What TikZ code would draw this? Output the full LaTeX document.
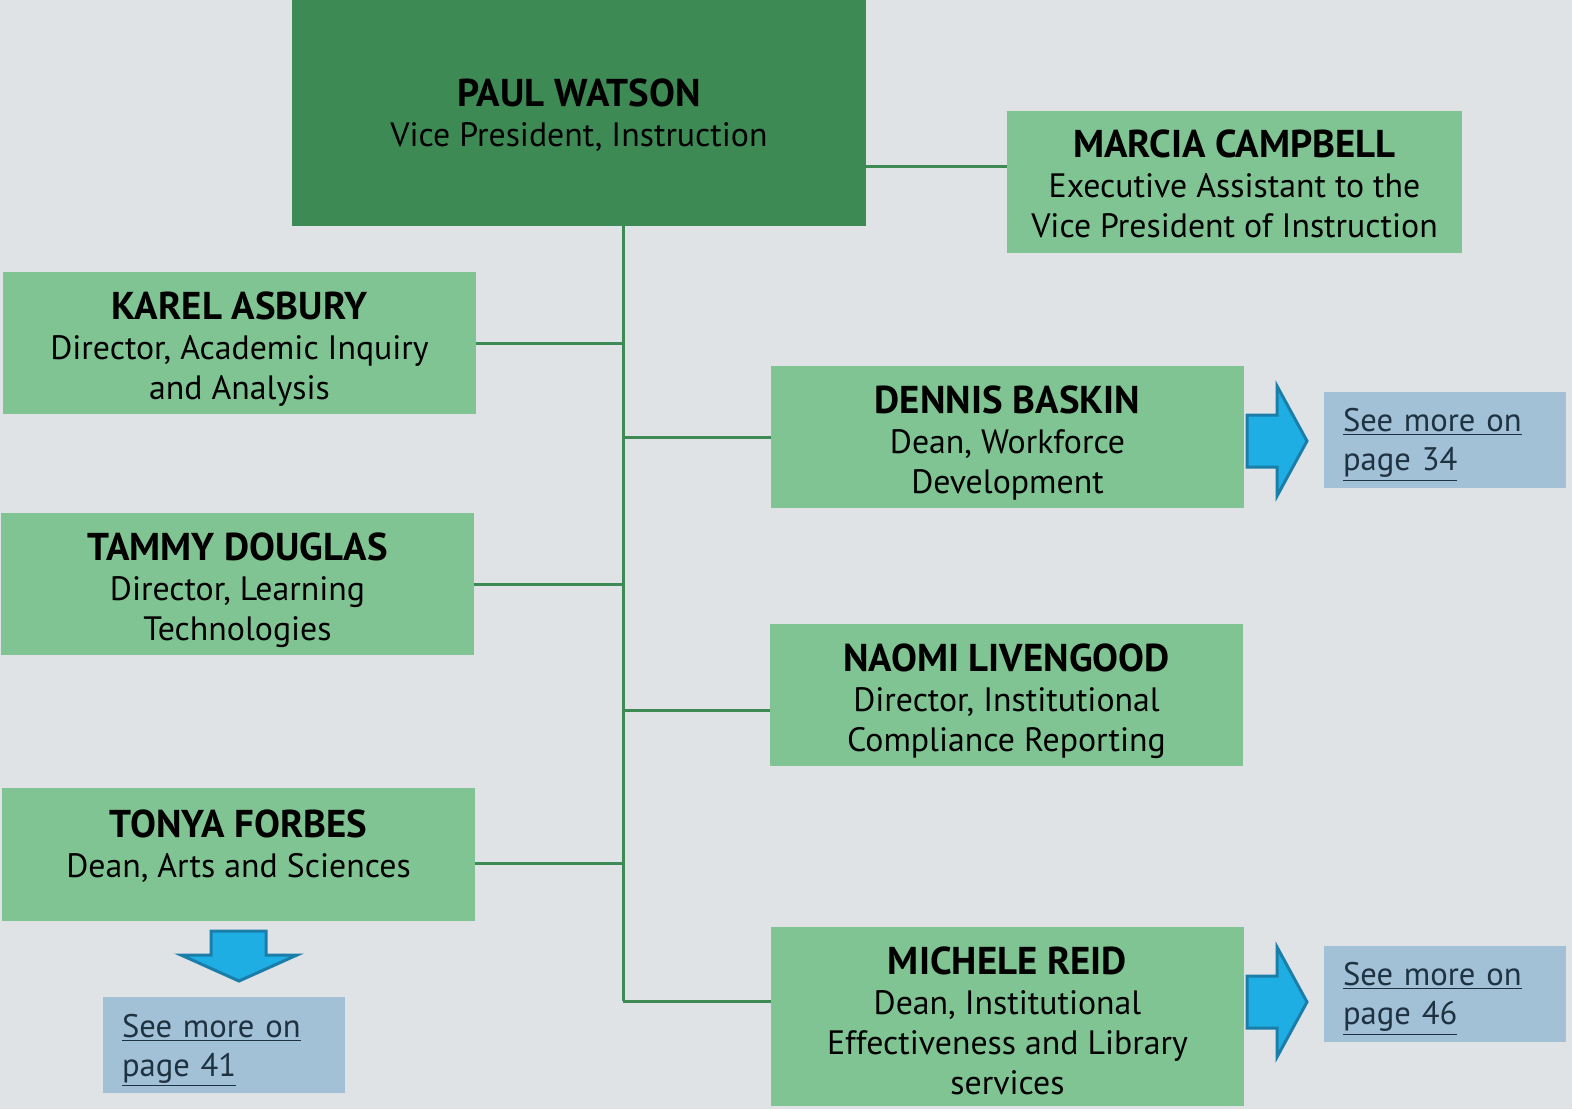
\documentclass[tikz,border=0pt]{standalone}
\usepackage{fontspec}
\setmainfont{PT Sans}
\usetikzlibrary{positioning,calc}

\definecolor{pagegray}{HTML}{DFE3E6}
\definecolor{vpgreen}{HTML}{3E8A55}
\definecolor{staffgreen}{HTML}{7FC492}
\definecolor{linkblue}{HTML}{A2C1D6}
\definecolor{arrowblue}{HTML}{1EAEE4}
\definecolor{arrowedge}{HTML}{1A7EA9}
\definecolor{linktext}{HTML}{1E3242}

\newcommand{\who}[1]{{\fontsize{19.4}{20}\selectfont\bfseries #1}}

\begin{document}
\begin{tikzpicture}[x=0.5pt, y=-0.5pt,
    person/.style={rectangle, fill=staffgreen, inner sep=0pt, minimum width=236.5pt, minimum height=71pt,
                   align=center, font=\fontsize{16.9}{20}\selectfont},
    threelines/.style={text height=60pt},
    seemore/.style={rectangle, fill=linkblue, inner sep=0pt, minimum width=121pt, minimum height=48pt,
                    text=linktext, align=left, text width=102pt, text depth=19.5pt,
                    font=\fontsize{16.3}{19.5}\selectfont},
    orgline/.style={draw=vpgreen, line width=1.5pt},
    blockarrow/.style={fill=arrowblue, draw=arrowedge, line width=1.5pt, line join=miter}]
    \fill[pagegray] (0,0) rectangle (1572,1109);

    \node[person, fill=vpgreen, minimum width=287pt, minimum height=113pt, text depth=0pt] (paul) at (579,113)
        {\who{PAUL WATSON}\\Vice President, Instruction};
    \node[person, minimum width=227.5pt, text height=55.6pt] (marcia) at (1234.5,182)
        {\who{MARCIA CAMPBELL}\\Executive Assistant to the\\Vice President of Instruction};
    \node[person, threelines] (karel)  at (239.5,343)  {\who{KAREL ASBURY}\\Director, Academic Inquiry\\and Analysis};
    \node[person, threelines] (dennis) at (1007.5,437) {\who{DENNIS BASKIN}\\Dean, Workforce\\Development};
    \node[person, threelines] (tammy)  at (237.5,584)  {\who{TAMMY DOUGLAS}\\Director, Learning\\Technologies};
    \node[person, threelines] (naomi)  at (1006.5,695) {\who{NAOMI LIVENGOOD}\\Director, Institutional\\Compliance Reporting};
    \node[person, minimum height=66.5pt, text depth=11pt] (tonya) at (238.5,854.5)
        {\who{TONYA FORBES}\\Dean, Arts and Sciences};
    \node[person, minimum height=89.5pt, text height=78.6pt] (michele) at (1007.5,1016.5)
        {\who{MICHELE REID}\\Dean, Institutional\\Effectiveness and Library\\services};

    \node[seemore] (page34) at (1445,439.5) {\underline{See more on}\\\underline{page 34}};
    \node[seemore] (page46) at (1445,993.5) {\underline{See more on}\\\underline{page 46}};
    \node[seemore] (page41) at (224,1045)   {\underline{See more on}\\\underline{page 41}};

    % trunk under the vice president
    \coordinate (trunk)    at (623,0);
    \coordinate (trunkend) at (623,1001);
    \draw[orgline] (paul.south -| trunk) -- (trunkend);
    \draw[orgline] ([yshift=8pt]marcia.west -| paul.east) -- ([yshift=8pt]marcia.west);
    \draw[orgline] (karel.east) -- (karel.east -| trunk);
    \draw[orgline] (tammy.east) -- (tammy.east -| trunk);
    \draw[orgline] ([yshift=-4.25pt]tonya.east) -- ([yshift=-4.25pt]tonya.east -| trunk);
    \draw[orgline] (dennis.west -| trunk) -- (dennis.west);
    \draw[orgline] ([yshift=-7.5pt]naomi.west -| trunk) -- ([yshift=-7.5pt]naomi.west);
    \draw[orgline] (trunkend) -- (trunkend -| michele.west);

    % block arrows to the other pages
    \foreach \ya in {441,1002}
        \draw[blockarrow] (1247,\ya-26) -- (1277,\ya-26) -- (1277,\ya-55) -- (1307,\ya)
            -- (1277,\ya+55) -- (1277,\ya+26) -- (1247,\ya+26) -- cycle;
    \draw[blockarrow] (211,931) -- (266,931) -- (266,955) -- (297,955) -- (239,981)
        -- (181,955) -- (211,955) -- cycle;
\end{tikzpicture}
\end{document}
